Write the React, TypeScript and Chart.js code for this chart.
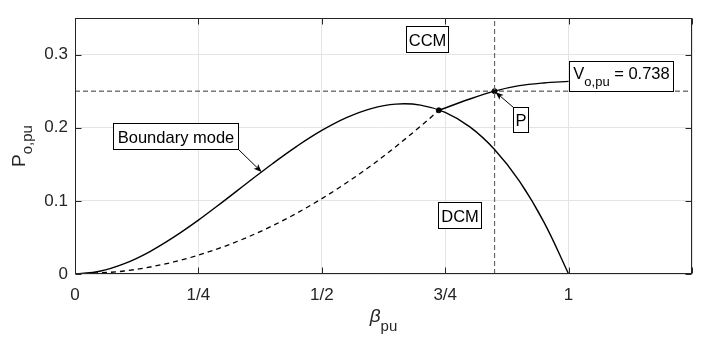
import { useEffect, useRef } from "react";
import { Chart, registerables } from "chart.js";

Chart.register(...registerables);

// ---- axis ticks ----
const betaTicks = [0, 0.25, 0.5, 0.75, 1, 1.25];
const betaTickLabels = ["0", "1/4", "1/2", "3/4", "1", ""];
const powerTicks = [0, 0.1, 0.2, 0.3];
const powerTickLabels = ["0", "0.1", "0.2", "0.3"];

// ---- boundary-mode curve (solid) ----
const boundaryBeta = [0, 0.05, 0.1, 0.15, 0.2, 0.25, 0.3, 0.35, 0.4, 0.45, 0.5, 0.55, 0.6, 0.65, 0.7, 0.75, 0.8, 0.85, 0.9, 0.95, 1];
const boundaryPower = [0, 0.0037, 0.0141, 0.03, 0.0503, 0.0736, 0.099, 0.1251, 0.1508, 0.1749, 0.1963, 0.2138, 0.2262, 0.2323, 0.2309, 0.2209, 0.2011, 0.1702, 0.1272, 0.0709, 0];

// ---- DCM curve for V = 0.738 (dashed) ----
const dcmBeta = [0, 0.1, 0.2, 0.3, 0.4, 0.5, 0.6, 0.7, 0.737];
const dcmPower = [0, 0.0041, 0.0165, 0.0371, 0.0659, 0.103, 0.1483, 0.2019, 0.2238];

// ---- CCM curve for V = 0.738 (solid) ----
const ccmBeta = [0.737, 0.8, 0.85, 0.9, 0.95, 1.0];
const ccmPower = [0.2238, 0.2393, 0.25, 0.2575, 0.2612, 0.2633];

// ---- operating point lines / markers ----
const operatingPower = 0.25;
const operatingBeta = 0.85;
const markerBeta = [0.737, 0.85];
const markerPower = [0.2238, 0.25];

const BETA_MAX = 1.25;
const POWER_MAX = 0.35;

const FONT = '"Liberation Sans", Arial, Helvetica, sans-serif';
const AXIS_COLOR = "#262626";
const NOTE_SIZE = 16.5;
const NOTE_SUB = 13;

type Part = [string, boolean];
type Note = { parts: Part[]; left: number; top: number; w: number; h: number };

const notes: Note[] = [
  { parts: [["CCM", false]], left: 0.67, top: 0.3384, w: 42, h: 26 },
  { parts: [["DCM", false]], left: 0.7348, top: 0.0986, w: 43, h: 26 },
  { parts: [["Boundary mode", false]], left: 0.0769, top: 0.2068, w: 125, h: 26 },
  { parts: [["V", false], ["o,pu", true], [" = 0.738", false]], left: 1.0, top: 0.2918, w: 104, h: 30 },
  { parts: [["P", false]], left: 0.8866, top: 0.2288, w: 15, h: 25 },
];

function zip(xs: number[], ys: number[]) {
  return xs.map((x, i) => ({ x, y: ys[i] }));
}

function arrow(ctx: CanvasRenderingContext2D, x0: number, y0: number, x1: number, y1: number) {
  const ang = Math.atan2(y1 - y0, x1 - x0);
  const L = 8, W = 3.2, N = 6;
  ctx.beginPath();
  ctx.moveTo(x0, y0);
  ctx.lineTo(x1 - Math.cos(ang) * N, y1 - Math.sin(ang) * N);
  ctx.stroke();
  const c = Math.cos(ang), s = Math.sin(ang);
  ctx.beginPath();
  ctx.moveTo(x1, y1);
  ctx.lineTo(x1 - c * L - s * W, y1 - s * L + c * W);
  ctx.lineTo(x1 - c * N, y1 - s * N);
  ctx.lineTo(x1 - c * L + s * W, y1 - s * L - c * W);
  ctx.closePath();
  ctx.fill();
}

const framePlugin = {
  id: "matlabFrame",
  afterDatasetsDraw(chart: any) {
    const { ctx, chartArea: a, scales } = chart;
    const xs = scales.x, ys = scales.y;
    ctx.save();
    // frame box
    ctx.strokeStyle = AXIS_COLOR;
    ctx.lineWidth = 1;
    const L = Math.round(a.left) + 0.5, T = Math.round(a.top) + 0.5;
    const R = Math.round(a.right) - 0.5, B = Math.round(a.bottom) - 0.5;
    ctx.strokeRect(L, T, R - L, B - T);
    // inward ticks
    ctx.beginPath();
    betaTicks.forEach((v) => {
      const px = Math.round(xs.getPixelForValue(v)) + 0.5;
      ctx.moveTo(px, B); ctx.lineTo(px, B - 6);
      ctx.moveTo(px, T); ctx.lineTo(px, T + 6);
    });
    powerTicks.forEach((v) => {
      const py = Math.round(ys.getPixelForValue(v)) + 0.5;
      ctx.moveTo(L, py); ctx.lineTo(L + 6, py);
      ctx.moveTo(R, py); ctx.lineTo(R - 6, py);
    });
    ctx.stroke();

    // annotations
    ctx.lineWidth = 1;
    const boxes: Record<string, { l: number; t: number; w: number; h: number }> = {};
    notes.forEach((n) => {
      const l = Math.round(xs.getPixelForValue(n.left)) + 0.5;
      const t = Math.round(ys.getPixelForValue(n.top)) + 0.5;
      boxes[n.parts[0][0]] = { l, t, w: n.w, h: n.h };
      ctx.fillStyle = "#fff";
      ctx.fillRect(l, t, n.w, n.h);
      ctx.strokeStyle = "#000";
      ctx.strokeRect(l, t, n.w, n.h);
      let total = 0;
      const widths = n.parts.map(([txt, sub]) => {
        ctx.font = `${sub ? NOTE_SUB : NOTE_SIZE}px ${FONT}`;
        const w = ctx.measureText(txt).width;
        total += w;
        return w;
      });
      const hasSub = n.parts.some((p) => p[1]);
      let x = l + (n.w - total) / 2;
      const baseY = t + n.h / 2 + 6 - (hasSub ? 4 : 0);
      ctx.fillStyle = "#000";
      ctx.textBaseline = "alphabetic";
      ctx.textAlign = "left";
      n.parts.forEach(([txt, sub], i) => {
        ctx.font = `${sub ? NOTE_SUB : NOTE_SIZE}px ${FONT}`;
        ctx.fillText(txt, x, baseY + (sub ? 7 : 0));
        x += widths[i];
      });
    });

    // arrows
    ctx.strokeStyle = "#000";
    ctx.fillStyle = "#000";
    const bm = boxes["Boundary mode"];
    arrow(ctx, bm.l + bm.w, bm.t + bm.h, xs.getPixelForValue(0.378), ys.getPixelForValue(0.1395));
    const pb = boxes["P"];
    arrow(ctx, pb.l, pb.t, xs.getPixelForValue(markerBeta[1]) + 1, ys.getPixelForValue(markerPower[1]) + 1);

    // axis titles
    ctx.fillStyle = AXIS_COLOR;
    ctx.textAlign = "left";
    ctx.textBaseline = "alphabetic";
    const cx = (a.left + a.right) / 2;
    ctx.font = `italic 19px ${FONT}`;
    const wb = ctx.measureText("β").width;
    ctx.font = `15px ${FONT}`;
    const wpu = ctx.measureText("pu").width;
    const sx = cx - (wb + wpu) / 2;
    ctx.font = `italic 19px ${FONT}`;
    ctx.fillText("β", sx, 322);
    ctx.font = `15px ${FONT}`;
    ctx.fillText("pu", sx + wb, 331);

    const cy = (a.top + a.bottom) / 2;
    ctx.save();
    ctx.translate(25, cy);
    ctx.rotate(-Math.PI / 2);
    ctx.font = `19px ${FONT}`;
    const wp = ctx.measureText("P").width;
    ctx.font = `15px ${FONT}`;
    const wsub = ctx.measureText("o,pu").width;
    const st = -(wp + wsub) / 2;
    ctx.font = `19px ${FONT}`;
    ctx.fillText("P", st, 0);
    ctx.font = `15px ${FONT}`;
    ctx.fillText("o,pu", st + wp, 7);
    ctx.restore();

    ctx.restore();
  },
};

export default function App() {
  const ref = useRef<HTMLCanvasElement | null>(null);
  useEffect(() => {
    if (!ref.current) return;
    const chart = new Chart(ref.current, {
      type: "line",
      data: {
        datasets: [
          {
            data: zip(boundaryBeta, boundaryPower),
            borderColor: "#000",
            borderWidth: 1.4,
            pointRadius: 0,
            tension: 0.4,
          },
          {
            data: zip(dcmBeta, dcmPower),
            borderColor: "#000",
            borderWidth: 1.3,
            borderDash: [5, 4],
            pointRadius: 0,
            cubicInterpolationMode: "monotone",
          },
          {
            data: zip(ccmBeta, ccmPower),
            borderColor: "#000",
            borderWidth: 1.4,
            pointRadius: 0,
            cubicInterpolationMode: "monotone",
          },
          {
            data: [
              { x: 0, y: operatingPower },
              { x: BETA_MAX, y: operatingPower },
            ],
            borderColor: "#333",
            borderWidth: 1,
            borderDash: [5, 3],
            pointRadius: 0,
          },
          {
            data: [
              { x: operatingBeta, y: 0 },
              { x: operatingBeta, y: POWER_MAX },
            ],
            borderColor: "#666",
            borderWidth: 1.2,
            borderDash: [5, 3],
            pointRadius: 0,
          },
          {
            data: zip(markerBeta, markerPower),
            showLine: false,
            pointRadius: 2.5,
            pointBackgroundColor: "#111",
            pointBorderColor: "#000",
            pointBorderWidth: 1,
          },
        ],
      },
      options: {
        animation: false,
        responsive: false,
        devicePixelRatio: 1,
        parsing: false as any,
        layout: { padding: { left: 0, top: 18, right: 18, bottom: 0 } },
        plugins: { legend: { display: false }, tooltip: { enabled: false }, title: { display: false } },
        scales: {
          x: {
            type: "linear",
            min: 0,
            max: BETA_MAX,
            afterBuildTicks: (s: any) => {
              s.ticks = betaTicks.map((v) => ({ value: v }));
            },
            afterFit: (s: any) => {
              s.height = 77;
            },
            ticks: {
              callback: (v: any) => {
                const i = betaTicks.findIndex((t) => Math.abs(t - Number(v)) < 1e-9);
                return i >= 0 ? betaTickLabels[i] : "";
              },
              font: { family: FONT, size: 17 },
              color: AXIS_COLOR,
              padding: 11,
              maxRotation: 0,
              autoSkip: false,
            },
            grid: { color: "#e4e4e4", drawTicks: false, lineWidth: 1 },
            border: { display: false },
          },
          y: {
            type: "linear",
            min: 0,
            max: POWER_MAX,
            afterBuildTicks: (s: any) => {
              s.ticks = powerTicks.map((v) => ({ value: v }));
            },
            afterFit: (s: any) => {
              s.width = 75;
            },
            ticks: {
              callback: (v: any) => {
                const i = powerTicks.findIndex((t) => Math.abs(t - Number(v)) < 1e-9);
                return i >= 0 ? powerTickLabels[i] : "";
              },
              font: { family: FONT, size: 17 },
              color: AXIS_COLOR,
              padding: 7,
              autoSkip: false,
            },
            grid: { color: "#e4e4e4", drawTicks: false, lineWidth: 1 },
            border: { display: false },
          },
        },
      },
      plugins: [framePlugin],
    });
    return () => chart.destroy();
  }, []);
  return (
    <div style={{ position: "absolute", left: 0, top: 0, width: 710, height: 351, background: "#fff" }}>
      <canvas ref={ref} width={710} height={351} style={{ display: "block" }} />
    </div>
  );
}
